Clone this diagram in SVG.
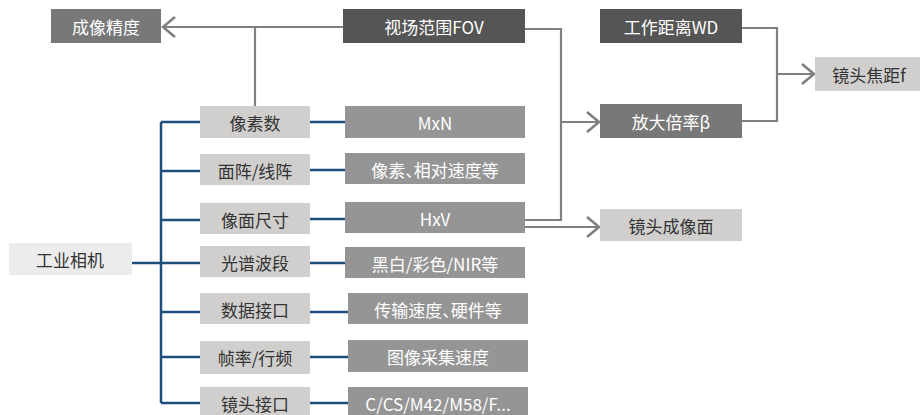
<svg xmlns="http://www.w3.org/2000/svg" width="920" height="415" viewBox="0 0 920 415">
<defs>
<marker id="arr" markerUnits="userSpaceOnUse" markerWidth="16" markerHeight="24" refX="13" refY="11" orient="auto">
<path d="M1,1 L13,11 L1,21" fill="none" stroke="#808080" stroke-width="2.6"/>
</marker>
<style>
text{font-family:"Noto Sans CJK SC","Noto Sans",sans-serif;font-size:17px;text-anchor:middle;dominant-baseline:central}
.h{font-feature-settings:"halt"}
.dk rect{fill:#555555}.md rect{fill:#787878}.gy rect{fill:#959595}.lt rect{fill:#d0cfce}.xl rect{fill:#ececec}
.dk text,.md text,.gy text{fill:#ffffff}.lt text,.xl text{fill:#333333}
.g{fill:none;stroke:#808080;stroke-width:2.2}
.n{fill:none;stroke:#1f4e7c;stroke-width:2.5}
</style>
</defs>
<rect width="920" height="415" fill="#ffffff"/>
<g id="connectors">
<path class="g" d="M343,27 H163" marker-end="url(#arr)"/>
<path class="g" d="M255,27 V106"/>
<path class="g" d="M525,29 H561 V220 H525"/>
<path class="g" d="M561,122 H599" marker-end="url(#arr)"/>
<path class="g" d="M525,227 H599" marker-end="url(#arr)"/>
<path class="g" d="M742,28 H777 V121 H742"/>
<path class="g" d="M777,74 H814" marker-end="url(#arr)"/>
<path class="n" d="M161,122 V403"/>
<path class="n" d="M132,263 H161"/>
<path class="n" d="M161,122 H200 M161,171 H200 M161,220 H200 M161,263 H200 M161,312 H200 M161,357 H200 M161,403 H200"/>
<path class="n" d="M310,122 H345 M310,170 H345 M310,219 H345 M310,263 H345 M310,312 H348 M310,357 H348 M310,403 H348"/>
</g>
<g id="chengxiangjingdu" class="md"><rect x="51" y="9" width="110" height="34"/><text x="106" y="26">成像精度</text></g>
<g id="fov" class="dk"><rect x="343" y="9" width="182" height="34"/><text x="434" y="26">视场范围FOV</text></g>
<g id="wd" class="dk"><rect x="600" y="9" width="142" height="34"/><text x="671" y="26">工作距离WD</text></g>
<g id="focal" class="lt"><rect x="815" y="57" width="105" height="34"/><text x="869" y="74">镜头焦距f</text></g>
<g id="beta" class="md"><rect x="600" y="104" width="142" height="34"/><text x="671" y="121">放大倍率β</text></g>
<g id="imgplane" class="lt"><rect x="600" y="209" width="142" height="32"/><text x="671" y="225">镜头成像面</text></g>
<g id="camera" class="xl"><rect x="9" y="243" width="123" height="32"/><text x="70" y="259">工业相机</text></g>
<g id="pixels" class="lt"><rect x="200" y="106" width="110" height="32"/><text x="255" y="122">像素数</text></g>
<g id="array" class="lt"><rect x="200" y="154" width="110" height="31"/><text x="255" y="170">面阵/线阵</text></g>
<g id="sensor" class="lt"><rect x="200" y="203" width="110" height="31"/><text x="255" y="219">像面尺寸</text></g>
<g id="spectrum" class="lt"><rect x="200" y="246" width="110" height="31"/><text x="255" y="262">光谱波段</text></g>
<g id="dataif" class="lt"><rect x="200" y="293" width="110" height="31"/><text x="255" y="309">数据接口</text></g>
<g id="framerate" class="lt"><rect x="200" y="341" width="110" height="33"/><text x="255" y="357">帧率/行频</text></g>
<g id="lensif" class="lt"><rect x="200" y="387" width="110" height="32"/><text x="255" y="403">镜头接口</text></g>
<g id="mxn" class="gy"><rect x="345" y="106" width="180" height="32"/><text x="435" y="122">MxN</text></g>
<g id="pixspeed" class="gy"><rect x="345" y="153" width="180" height="31"/><text class="h" x="435" y="169">像素、相对速度等</text></g>
<g id="hxv" class="gy"><rect x="345" y="202" width="180" height="31"/><text x="435" y="218">HxV</text></g>
<g id="color" class="gy"><rect x="345" y="247" width="180" height="31"/><text x="435" y="263">黑白/彩色/NIR等</text></g>
<g id="transfer" class="gy"><rect x="348" y="293" width="180" height="31"/><text class="h" x="438" y="309">传输速度、硬件等</text></g>
<g id="acq" class="gy"><rect x="348" y="340" width="180" height="32"/><text x="438" y="356">图像采集速度</text></g>
<g id="mount" class="gy"><rect x="348" y="387" width="180" height="32"/><text x="438" y="403">C/CS/M42/M58/F...</text></g>
</svg>
